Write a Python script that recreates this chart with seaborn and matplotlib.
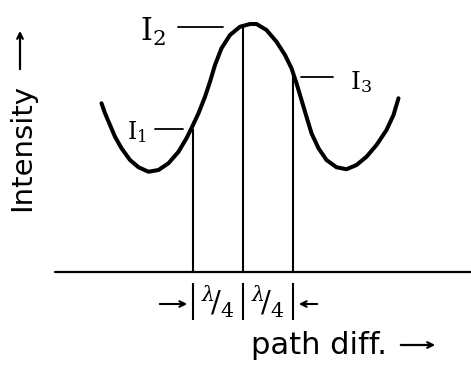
import pandas as pd
import seaborn as sns
import matplotlib.pyplot as plt

# path difference in units of lambda/4 (0 = central maximum), intensity in arbitrary units
path_diff = [-2.83, -2.76, -2.66, -2.56, -2.43, -2.26, -2.09, -1.89, -1.69, -1.49,
             -1.29, -1.13, -1.03, -0.89, -0.76, -0.66, -0.56, -0.43, -0.26, -0.06,
             0.14, 0.27, 0.47, 0.67, 0.84, 0.97, 1.07, 1.17, 1.27, 1.37,
             1.51, 1.67, 1.87, 2.07, 2.27, 2.47, 2.67, 2.87, 3.01, 3.11]
intensity = [6.75, 6.35, 5.88, 5.41, 4.95, 4.48, 4.19, 4.01, 4.08, 4.35,
             4.81, 5.35, 5.75, 6.35, 7.01, 7.61, 8.28, 8.95, 9.48, 9.81,
             9.92, 9.92, 9.68, 9.21, 8.68, 8.15, 7.55, 6.88, 6.21, 5.55,
             4.95, 4.48, 4.19, 4.11, 4.28, 4.61, 5.08, 5.68, 6.28, 6.95]

# the three readings, a quarter wavelength apart
mark_x = [-1, 0, 1]
mark_I = [5.72, 9.8, 8.1]
mark_labels = [r'$\mathrm{I}_1$', r'$\mathrm{I}_2$', r'$\mathrm{I}_3$']
gap_labels = [r'$^{\lambda}\!/_{4}$', r'$^{\lambda}\!/_{4}$']

df = pd.DataFrame({'path_diff': path_diff, 'intensity': intensity})

sns.set_style('white')
plt.rcParams['font.family'] = ['DejaVu Sans']
plt.rcParams['mathtext.fontset'] = 'dejavuserif'
plt.rcParams['text.color'] = 'black'

fig = plt.figure(figsize=(4.71, 3.65), dpi=100)
ax = fig.add_axes([0, 0, 1, 1])

sns.lineplot(data=df, x='path_diff', y='intensity', color='black', lw=2.9, ax=ax)
ax.lines[-1].set_solid_joinstyle('round')
ax.lines[-1].set_solid_capstyle('round')

# baseline (path difference axis)
ax.plot([-3.76, 4.6], [0, 0], color='black', lw=1.6)

# verticals at the reading points
ax.vlines(mark_x, 0, mark_I, color='black', lw=1.5)

# labels with leader lines
ax.plot([-1.76, -1.2], [5.72, 5.72], color='black', lw=1.3)
ax.text(-2.12, 5.6, mark_labels[0], fontsize=17, ha='center', va='center')
ax.plot([-1.3, -0.4], [9.8, 9.8], color='black', lw=1.3)
ax.text(-1.8, 9.6, mark_labels[1], fontsize=22, ha='center', va='center')
ax.plot([1.16, 1.8], [7.8, 7.8], color='black', lw=1.3)
ax.text(2.36, 7.6, mark_labels[2], fontsize=18, ha='center', va='center')

# quarter-wave bracket under the axis
ax.vlines(mark_x, -0.44, -1.9, color='black', lw=1.5)
for i, lab in enumerate(gap_labels):
    ax.text((mark_x[i] + mark_x[i + 1]) / 2, -1.2, lab, fontsize=21,
            ha='center', va='center')
ax.annotate('', xy=(mark_x[0] - 0.06, -1.28), xytext=(-1.72, -1.28),
            arrowprops=dict(arrowstyle='->', lw=1.5, color='black'))
ax.annotate('', xy=(mark_x[2] + 0.06, -1.28), xytext=(1.54, -1.28),
            arrowprops=dict(arrowstyle='->', lw=1.5, color='black'))

# axis titles
ax.text(1.52, -2.96, 'path diff.', fontsize=22, ha='center', va='center')
ax.annotate('', xy=(3.9, -2.92), xytext=(3.1, -2.92),
            arrowprops=dict(arrowstyle='->', lw=1.6, color='black'))
ax.text(-4.42, 5.0, 'Intensity', fontsize=21, rotation=90,
        ha='center', va='center')
ax.annotate('', xy=(-4.46, 9.76), xytext=(-4.46, 8.0),
            arrowprops=dict(arrowstyle='->', lw=1.6, color='black'))

ax.set_xlim(-4.86, 4.56)
ax.set_ylim(-3.72, 10.88)
ax.axis('off')

fig.savefig('out.png', dpi=100)
